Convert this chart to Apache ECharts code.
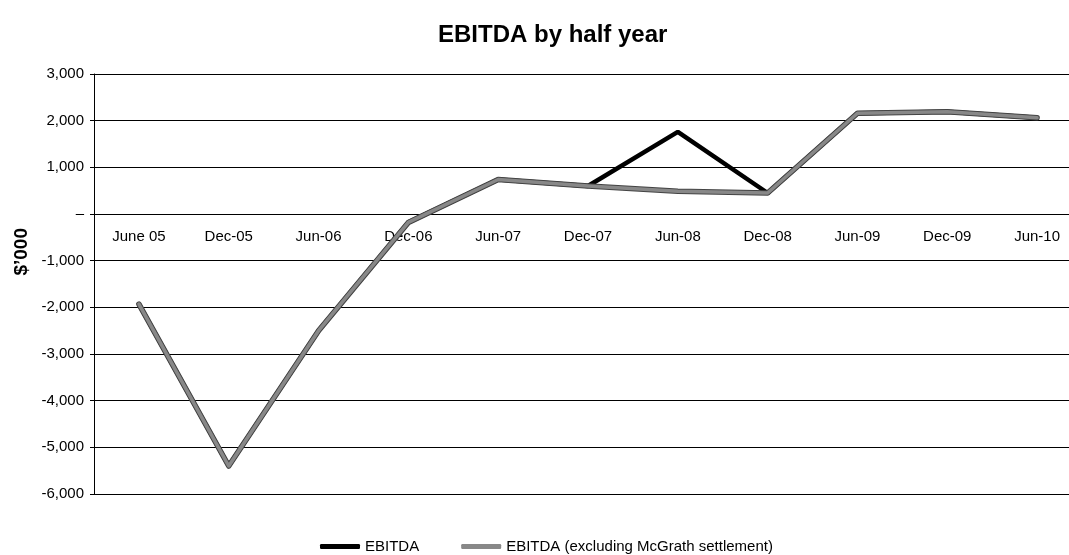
<!DOCTYPE html>
<html>
<head>
<meta charset="utf-8">
<script src="https://cdn.jsdelivr.net/npm/echarts@6/dist/echarts.min.js"></script>
<style>
  html, body { margin: 0; padding: 0; background: #fff; }
  #chart { width: 1069px; height: 555px; }
</style>
</head>
<body>
<div id="chart"></div>
<script>
var periods = ['June 05', 'Dec-05', 'Jun-06', 'Dec-06', 'Jun-07', 'Dec-07', 'Jun-08', 'Dec-08', 'Jun-09', 'Dec-09', 'Jun-10'];
var ebitda = [-1930, -5400, -2500, -180, 740, 600, 1760, 450, 2160, 2190, 2060];
var ebitdaExMcGrath = [-1930, -5400, -2500, -180, 740, 600, 490, 450, 2160, 2190, 2060];

var font = 'Liberation Sans, Arial, sans-serif';
var gridTop = 74, gridBottom = 61, yMin = -6000, yMax = 3000;
// move the category axis up to the zero line
var zeroOffset = -(555 - gridTop - gridBottom) * (0 - yMin) / (yMax - yMin);

var chart = echarts.init(document.getElementById('chart'));

chart.setOption({
    animation: false,
    title: {
        text: 'EBITDA by half year',
        left: 433,
        top: 18,
        textStyle: { fontFamily: font, fontSize: 24, fontWeight: 'bold', color: '#000' }
    },
    graphic: [{
        type: 'text',
        left: 12,
        top: 228,
        rotation: Math.PI / 2,
        style: {
            text: '$\u2019000',
            font: 'bold 19px ' + font,
            fill: '#000'
        }
    }],
    legend: {
        top: 534,
        left: 315,
        itemWidth: 40,
        itemHeight: 5,
        itemGap: 42,
        itemTextGap: 7,
        icon: 'roundRect',
        data: ['EBITDA', 'EBITDA (excluding McGrath settlement)'],
        textStyle: { fontFamily: font, fontSize: 15, color: '#000' }
    },
    grid: { left: 94, top: gridTop, bottom: gridBottom, width: 988, outerBoundsMode: 'none' },
    xAxis: {
        type: 'category',
        data: periods,
        boundaryGap: true,
        offset: zeroOffset,
        axisLine: { onZero: false, lineStyle: { color: '#000', width: 1 } },
        axisTick: { length: 5, lineStyle: { color: '#000' } },
        axisLabel: { fontFamily: font, fontSize: 15, color: '#000', margin: 15, interval: 0 }
    },
    yAxis: {
        type: 'value',
        min: yMin,
        max: yMax,
        interval: 1000,
        axisLine: { show: true, lineStyle: { color: '#000' } },
        axisTick: { show: true, length: 4, lineStyle: { color: '#000' } },
        axisLabel: {
            fontFamily: font, fontSize: 15, color: '#000', margin: 10,
            formatter: function (v) {
                if (v === 0) return '\u2013';
                var s = Math.abs(v).toString().replace(/\B(?=(\d{3})+(?!\d))/g, ',');
                return (v < 0 ? '-' : '') + s;
            }
        },
        splitLine: { lineStyle: { color: '#000', width: 1 } }
    },
    series: [
        {
            name: 'EBITDA',
            type: 'line',
            data: ebitda,
            symbol: 'none',
            itemStyle: { color: '#000' },
            lineStyle: { color: '#000', width: 4.5 },
            z: 2
        },
        {
            name: 'outline',
            type: 'line',
            data: ebitdaExMcGrath,
            symbol: 'none',
            silent: true,
            lineStyle: { color: '#444', width: 5.5, cap: 'round', join: 'round' },
            z: 3
        },
        {
            name: 'EBITDA (excluding McGrath settlement)',
            type: 'line',
            data: ebitdaExMcGrath,
            symbol: 'none',
            itemStyle: { color: '#888' },
            lineStyle: { color: '#888', width: 3.5, cap: 'round', join: 'round' },
            z: 4
        }
    ]
});
</script>
</body>
</html>
